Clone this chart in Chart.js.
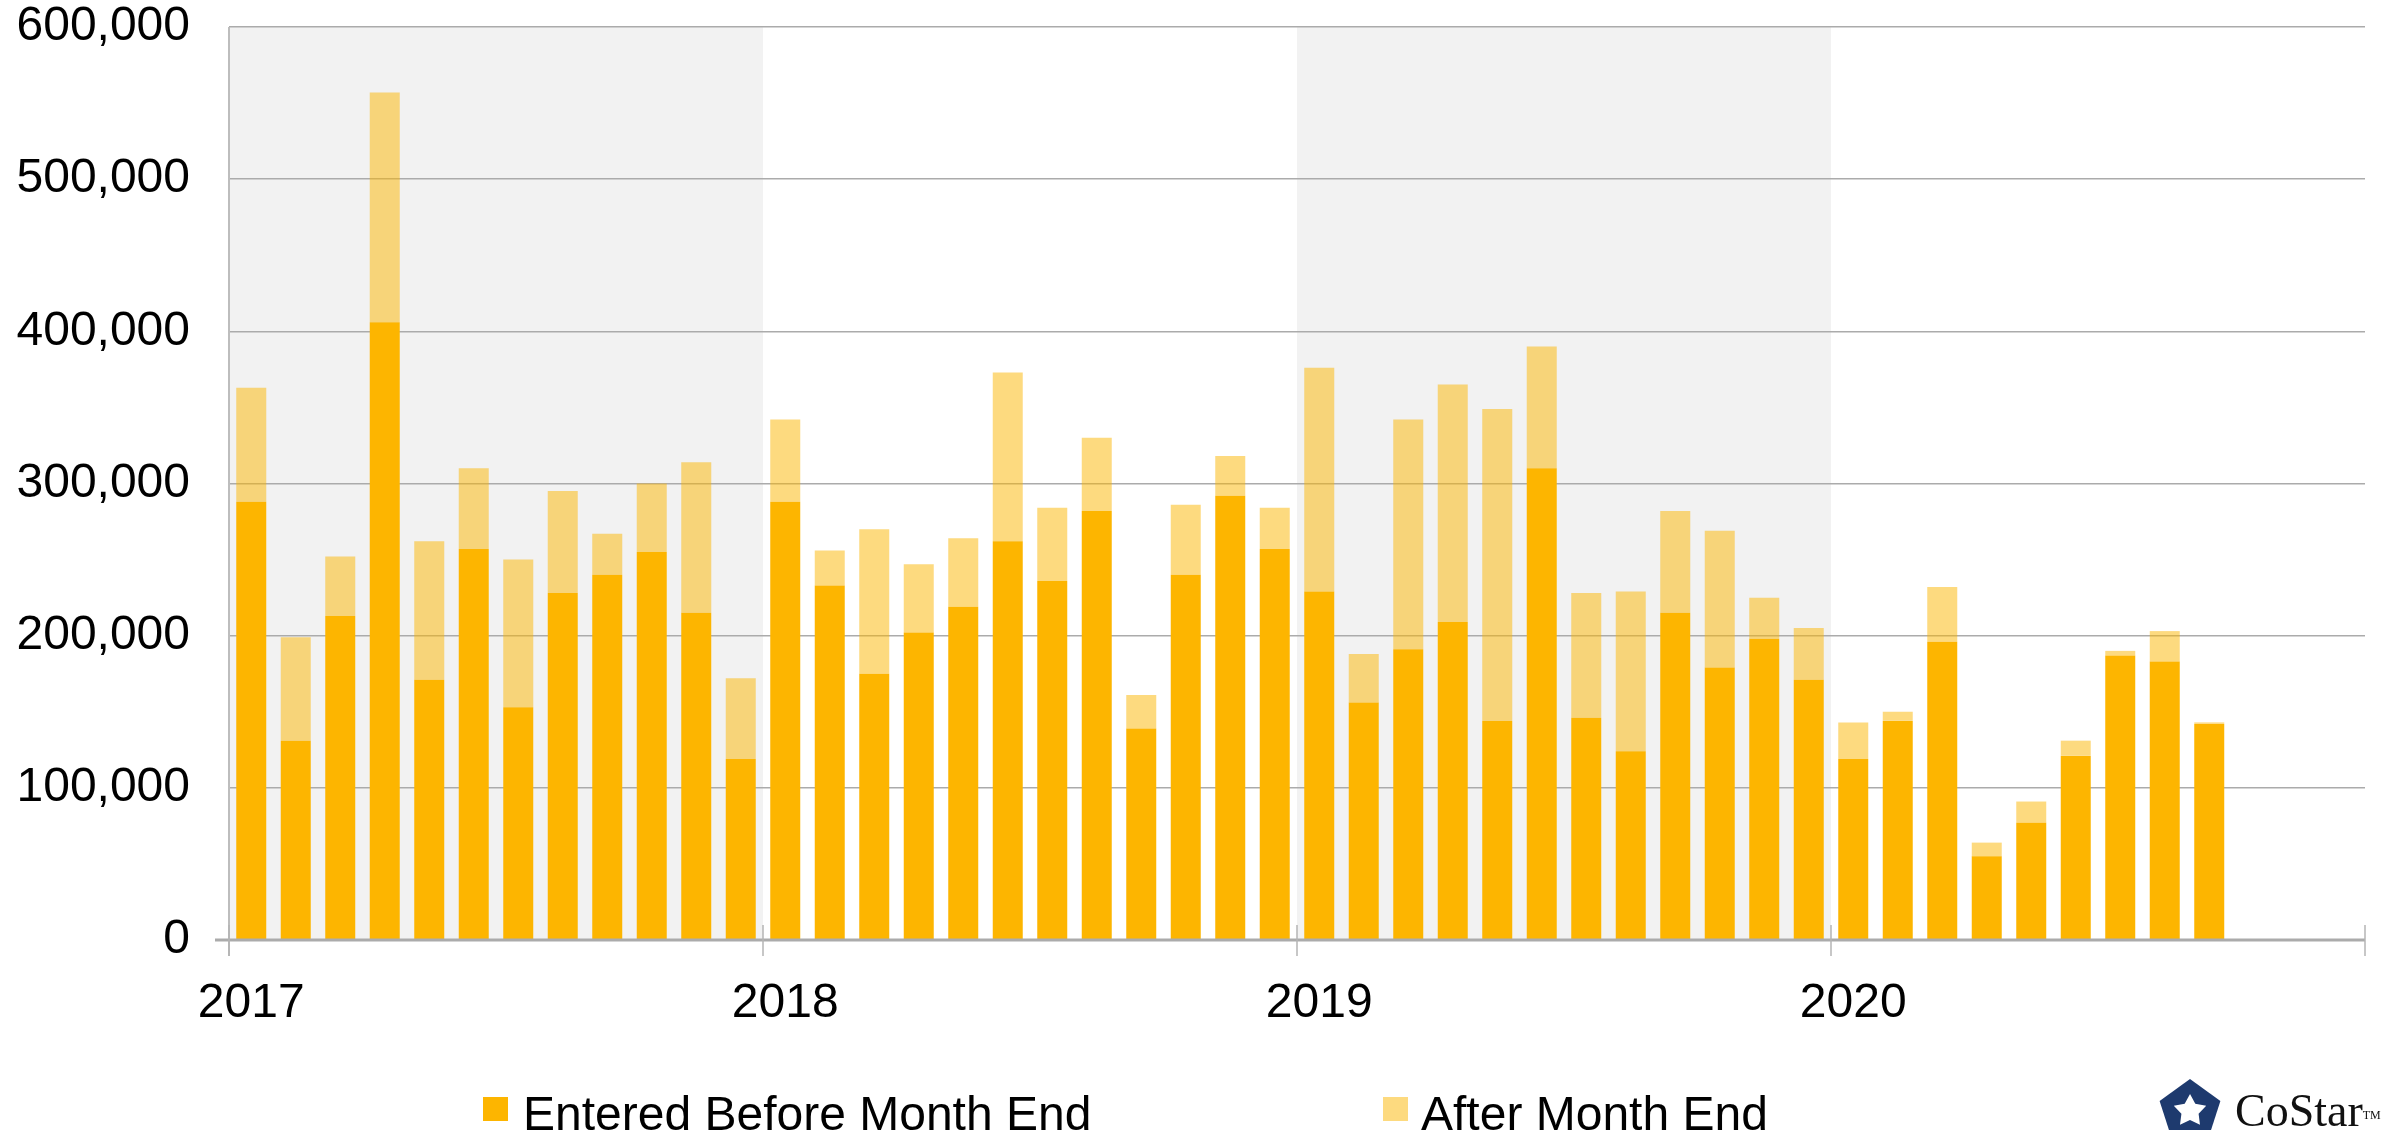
<!DOCTYPE html>
<html>
<head>
<meta charset="utf-8">
<script src="https://cdn.jsdelivr.net/npm/chart.js@4.4.1/dist/chart.umd.min.js"></script>
<style>
    body { margin: 0; background: #fff; overflow: hidden; }
    #wrap { position: relative; width: 2381px; height: 1130px; }
    #chart { position: absolute; left: 0; top: 0; }
    .legend-item { position: absolute; top: 1090px; height: 48px; line-height: 48px;
        font-family: Arial, "Liberation Sans", sans-serif; font-size: 48px; color: #000; white-space: nowrap; }
    .swatch { position: absolute; width: 25px; height: 24px; }
    #logo { position: absolute; left: 2157px; top: 1076px; width: 224px; height: 54px; overflow: hidden; }
    #logo span { position: absolute; left: 78px; top: 12px; font-family: "Liberation Serif", "DejaVu Serif", serif;
        font-size: 46px; line-height: 46px; color: #111; }
    #logo sup { font-size: 12px; vertical-align: top; position: relative; top: 4px; }
</style>
</head>
<body>
<div id="wrap">
    <canvas id="chart" width="2381" height="1130"></canvas>
    <div class="swatch" style="left:483px;top:1097px;background:#FDB500;"></div>
    <div class="legend-item" style="left:523px;">Entered Before Month End</div>
    <div class="swatch" style="left:1383px;top:1097px;background:#FDDA7F;"></div>
    <div class="legend-item" style="left:1421px;">After Month End</div>
    <div id="logo">
        <svg width="66" height="66" viewBox="-33 -33 66 66" style="position:absolute;left:0;top:2px;">
            <polygon points="0,-32 30.4,-9.9 18.8,25.9 -18.8,25.9 -30.4,-9.9" fill="#1E3A6E"/>
            <polygon points="0,17 -5.3,7.3 -16.2,5.3 -8.6,-2.8 -10,-13.8 0,-9 10,-13.8 8.6,-2.8 16.2,5.3 5.3,7.3" fill="#fff" transform="rotate(36)"/>
        </svg>
        <span>CoStar<sup>TM</sup></span>
    </div>
</div>
<script>
// months on the x axis
const years = ['2017', '2018', '2019', '2020'];
const monthNames = ['Jan', 'Feb', 'Mar', 'Apr', 'May', 'Jun', 'Jul', 'Aug', 'Sep', 'Oct', 'Nov', 'Dec'];
const categories = years.flatMap(y => monthNames.map(m => m + ' ' + y));

// years drawn with a grey band
const shadedYears = ['2017', '2019'];

const enteredBefore = [
    288000, 131000, 213000, 406000, 171000, 257000, 153000, 228000, 240000, 255000, 215000, 119000,
    288000, 233000, 175000, 202000, 219000, 262000, 236000, 282000, 139000, 240000, 292000, 257000,
    229000, 156000, 191000, 209000, 144000, 310000, 146000, 124000, 215000, 179000, 198000, 171000,
    119000, 144000, 196000, 55000, 77000, 121000, 187000, 183000, 142000
];
const afterMonthEnd = [
    75000, 68000, 39000, 151000, 91000, 53000, 97000, 67000, 27000, 45000, 99000, 53000,
    54000, 23000, 95000, 45000, 45000, 111000, 48000, 48000, 22000, 46000, 26000, 27000,
    147000, 32000, 151000, 156000, 205000, 80000, 82000, 105000, 67000, 90000, 27000, 34000,
    24000, 6000, 36000, 9000, 14000, 10000, 3000, 20000, 1000
];

const yTicks = [0, 100000, 200000, 300000, 400000, 500000, 600000];

const FONT = 'Arial, "Liberation Sans", sans-serif';

const frame = {
    id: 'frame',
    beforeDraw(chart) {
        const { ctx, chartArea, scales: { x } } = chart;
        const step = (x.right - x.left) / categories.length;
        ctx.save();
        ctx.fillStyle = '#F2F2F2';
        shadedYears.forEach(yr => {
            const i = categories.indexOf('Jan ' + yr);
            const left = x.getPixelForValue(i) - step / 2;
            ctx.fillRect(left, chartArea.top, step * 12, chartArea.bottom - chartArea.top);
        });
        ctx.restore();
    },
    afterDraw(chart) {
        const { ctx, chartArea, scales: { x } } = chart;
        const step = (x.right - x.left) / categories.length;
        ctx.save();
        // y axis line
        ctx.strokeStyle = '#BDBDBD';
        ctx.lineWidth = 2;
        ctx.beginPath();
        ctx.moveTo(chartArea.left, chartArea.top);
        ctx.lineTo(chartArea.left, chartArea.bottom + 16);
        ctx.stroke();
        // x axis line
        ctx.strokeStyle = '#ABABAB';
        ctx.lineWidth = 3;
        ctx.beginPath();
        ctx.moveTo(chartArea.left - 14, chartArea.bottom);
        ctx.lineTo(chartArea.right, chartArea.bottom);
        ctx.stroke();
        // year tick marks
        ctx.strokeStyle = '#B5B5B5';
        ctx.lineWidth = 1.5;
        for (let i = 0; i <= years.length; i++) {
            const px = x.left + i * 12 * step;
            ctx.beginPath();
            ctx.moveTo(px, chartArea.bottom - 15);
            ctx.lineTo(px, chartArea.bottom + 16);
            ctx.stroke();
        }
        ctx.restore();
    }
};

new Chart(document.getElementById('chart'), {
    type: 'bar',
    data: {
        labels: categories,
        datasets: [{
            label: 'Entered Before Month End',
            data: enteredBefore,
            backgroundColor: '#FDB500',
            barPercentage: 0.674,
            categoryPercentage: 1
        }, {
            label: 'After Month End',
            data: afterMonthEnd,
            backgroundColor: 'rgba(252, 182, 0, 0.5)',
            barPercentage: 0.674,
            categoryPercentage: 1
        }]
    },
    options: {
        responsive: false,
        animation: false,
        layout: { padding: { top: 27, right: 16, left: 0, bottom: 0 } },
        plugins: {
            legend: { display: false },
            tooltip: { enabled: false }
        },
        scales: {
            x: {
                stacked: true,
                grid: { display: false },
                border: { display: false },
                ticks: {
                    autoSkip: false,
                    maxRotation: 0,
                    padding: 32,
                    color: '#000',
                    font: { family: FONT, size: 48, lineHeight: 1 },
                    callback: (v, i) => categories[i].startsWith('Jan') ? categories[i].slice(4) : ''
                },
                afterFit: s => { s.height = 190; s.paddingLeft = 0; s.paddingRight = 0; }
            },
            y: {
                stacked: true,
                min: 0,
                max: 600000,
                afterBuildTicks: s => { s.ticks = yTicks.map(v => ({ value: v })); },
                grid: { color: '#ABABAB', lineWidth: 1.5, drawTicks: false },
                border: { display: false },
                ticks: {
                    padding: 39,
                    color: '#000',
                    font: { family: FONT, size: 48, lineHeight: 1 },
                    callback: v => v.toLocaleString('en-US')
                },
                afterFit: s => { s.width = 229; s.paddingTop = 0; s.paddingBottom = 0; }
            }
        }
    },
    plugins: [frame]
});
</script>
</body>
</html>
